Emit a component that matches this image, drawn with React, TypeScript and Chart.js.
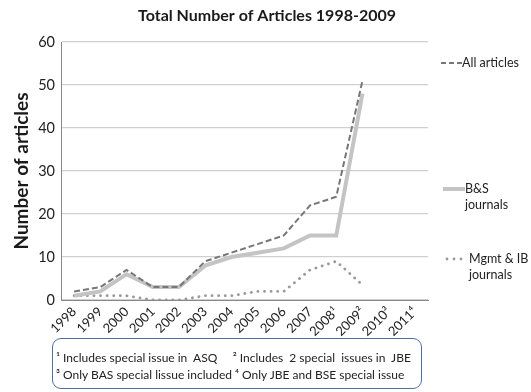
import React, { useEffect, useRef } from "react";
import { Chart, registerables } from "chart.js";
Chart.register(...registerables);

const categories = ["1998", "1999", "2000", "2001", "2002", "2003", "2004", "2005", "2006", "2007", "2008¹", "2009²", "2010³", "2011⁴"];
const allArticles = [2, 3, 7, 3, 3, 9, 11, 13, 15, 22, 24, 51, null, null];
const bsJournals = [1, 2, 6, 3, 3, 8, 10, 11, 12, 15, 15, 48, null, null];
const mgmtJournals = [1, 1, 1, 0, 0, 1, 1, 2, 2, 7, 9, 3.5, null, null];
const yTicks = [0, 10, 20, 30, 40, 50, 60];

const chartTitle = "Total Number of Articles 1998-2009";
const yTitle = "Number of articles";
const footnote1 = "¹ Includes special issue in  ASQ     ² Includes  2 special  issues in  JBE";
const footnote2 = "³ Only BAS special lissue included ⁴ Only JBE and BSE special issue";

const FONT = "Lato, 'Open Sans', sans-serif";

const decorPlugin = {
  id: "decor",
  afterDraw(chart: any) {
    const ctx = chart.ctx;
    ctx.save();
    // title
    ctx.fillStyle = "#1a1a1a";
    ctx.font = `bold 16px ${FONT}`;
    ctx.textAlign = "center";
    ctx.textBaseline = "middle";
    ctx.fillText(chartTitle, 267, 16);
    // y title
    ctx.save();
    ctx.translate(22, 171);
    ctx.rotate(-Math.PI / 2);
    ctx.font = `bold 19px ${FONT}`;
    ctx.fillText(yTitle, 0, 0);
    ctx.restore();
    // legend
    ctx.textAlign = "left";
    ctx.font = `12.5px ${FONT}`;
    ctx.fillStyle = "#222";
    // all articles
    ctx.strokeStyle = "#777";
    ctx.lineWidth = 2;
    ctx.setLineDash([5, 3]);
    ctx.beginPath();
    ctx.moveTo(441, 63);
    ctx.lineTo(462, 63);
    ctx.stroke();
    ctx.fillText("All articles", 462, 63);
    // B&S
    ctx.setLineDash([]);
    ctx.strokeStyle = "#c4c4c4";
    ctx.lineWidth = 4;
    ctx.beginPath();
    ctx.moveTo(443, 189);
    ctx.lineTo(465, 189);
    ctx.stroke();
    ctx.fillText("B&S", 465, 189);
    ctx.fillText("journals", 465, 205);
    // Mgmt
    ctx.fillStyle = "#999";
    for (const x of [447, 454, 461]) {
      ctx.beginPath();
      ctx.arc(x, 259, 1.4, 0, Math.PI * 2);
      ctx.fill();
    }
    ctx.fillStyle = "#222";
    ctx.fillText("Mgmt & IB", 469, 259);
    ctx.fillText("journals", 469, 275);
    ctx.restore();
  },
};

export default function App() {
  const ref = useRef<HTMLCanvasElement>(null);
  useEffect(() => {
    document.body.style.margin = "0";
    const chart = new Chart(ref.current!, {
      type: "line",
      data: {
        labels: categories,
        datasets: [
          {
            label: "All articles",
            data: allArticles,
            borderColor: "#777777",
            borderWidth: 2,
            borderDash: [6, 3],
            pointRadius: 0,
            tension: 0,
          },
          {
            label: "B&S journals",
            data: bsJournals,
            borderColor: "#c4c4c4",
            borderWidth: 4,
            pointRadius: 0,
            tension: 0,
          },
          {
            label: "Mgmt & IB journals",
            data: mgmtJournals,
            borderColor: "#9a9a9a",
            borderWidth: 2.8,
            borderDash: [0.1, 6.5],
            borderCapStyle: "round",
            pointRadius: 0,
            tension: 0,
          },
        ] as any,
      },
      options: {
        animation: false,
        responsive: false,
        layout: { padding: { top: 42, right: 103, left: 0, bottom: 0 } },
        plugins: { legend: { display: false }, title: { display: false }, tooltip: { enabled: false } },
        scales: {
          x: {
            offset: true,
            grid: { display: false, drawTicks: false },
            border: { color: "#888", width: 1 },
            ticks: {
              color: "#222",
              font: { family: FONT, size: 13 },
              maxRotation: 45,
              minRotation: 45,
              autoSkip: false,
              padding: 4,
            },
            afterFit(scale: any) {
              scale.height = 92;
            },
          },
          y: {
            min: 0,
            max: 60,
            afterBuildTicks(scale: any) {
              scale.ticks = yTicks.map((v) => ({ value: v }));
            },
            grid: { color: "#d0d0d0", lineWidth: 1.2, drawTicks: false },
            border: { color: "#888", width: 1 },
            ticks: {
              color: "#222",
              font: { family: FONT, size: 14.5 },
              padding: 6,
            },
            afterFit(scale: any) {
              scale.width = 61;
            },
          },
        },
      },
      plugins: [decorPlugin],
    });
    return () => chart.destroy();
  }, []);
  return (
    <div style={{ position: "absolute", left: 0, top: 0, width: 531, height: 392 }}>
      <canvas ref={ref} width={531} height={392} style={{ display: "block" }} />
      <div
        style={{
          position: "absolute",
          left: 52,
          top: 338,
          width: 370,
          height: 51,
          boxSizing: "border-box",
          border: "1.5px solid #4f6fa0",
          borderRadius: 9,
          fontFamily: FONT,
          fontSize: 12,
          color: "#222",
          lineHeight: "17px",
          padding: "10px 0 0 3px",
          whiteSpace: "pre",
        }}
      >
        <div>{footnote1}</div>
        <div>{footnote2}</div>
      </div>
    </div>
  );
}
